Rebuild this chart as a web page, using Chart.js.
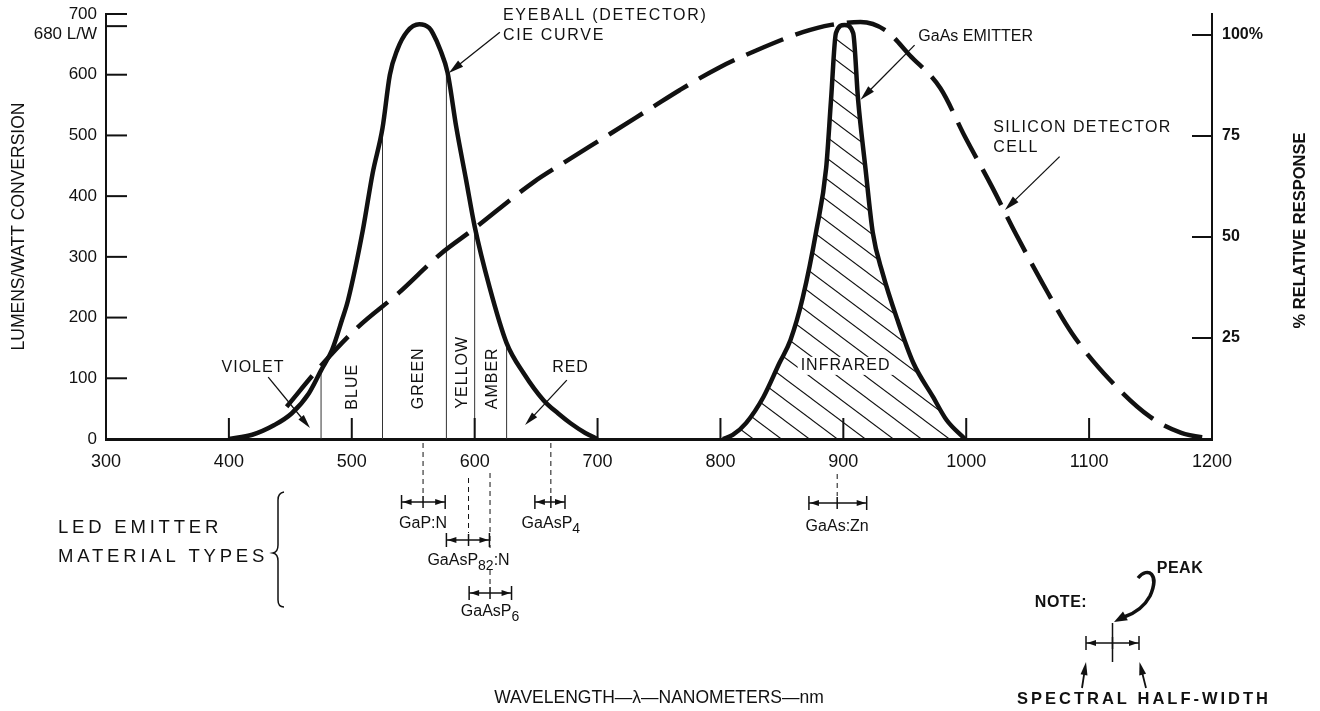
<!DOCTYPE html>
<html>
<head>
<meta charset="utf-8">
<title>Spectral response of eye, silicon cell and LED emitters</title>
<script src="https://cdn.jsdelivr.net/npm/chart.js@4.4.1/dist/chart.umd.min.js"></script>
<style>
  html, body { margin: 0; padding: 0; background: #fff; }
  #wrap { width: 1320px; height: 711px; }
</style>
</head>
<body>
<div id="wrap"><canvas id="chart" width="1320" height="711"></canvas></div>
<script>
// axis ticks
const xTicks = [300, 400, 500, 600, 700, 800, 900, 1000, 1100, 1200];
const leftTicks = [0, 100, 200, 300, 400, 500, 600, 680, 700];
const rightTicks = [25, 50, 75, 100];

// eyeball (CIE) curve, lumens per watt
const cieNm = [400, 419, 437, 451, 465, 475, 484, 492, 497, 509, 517, 525, 531, 537, 545, 555, 563, 566, 572, 578, 585, 593, 600, 612, 626, 640, 656, 668, 678, 690, 700];
const cieLw = [0, 7, 23, 42, 75, 113, 147, 196, 229, 344, 438, 512, 600, 641, 671, 683, 677, 668, 641, 603, 514, 427, 350, 251, 158, 108, 64, 42, 26, 10, 0];

// silicon detector cell, % relative response
const siNm = [447, 474, 505, 538, 573, 598, 648, 672, 710, 745, 767, 798, 830, 867, 890, 914, 935, 954, 979, 999, 1021, 1040, 1062, 1086, 1117, 1150, 1175, 1200];
const siPct = [8, 17.8, 27.7, 36.1, 46, 51.7, 63.6, 68.3, 75.5, 82.2, 86.4, 91.8, 96.3, 100.7, 102.5, 103.2, 101, 95, 86.8, 74.8, 62.4, 51, 38.6, 26.2, 14.6, 5.4, 1.5, 0];

// GaAs emitter, % relative response
const gaasNm = [802, 810, 821, 835, 848, 857, 867, 878, 886, 890, 894, 901, 908, 912, 918, 924, 932, 944, 957, 973, 984, 999];
const gaasPct = [0, 1, 4, 10.4, 18.8, 24.5, 35, 51.5, 67, 84, 100.5, 102.5, 100.5, 84, 67, 51, 41, 29.5, 18.8, 10.4, 4.7, 0];

// colour bands under the eye curve
const bandEdges = [475, 525, 577, 600, 626];
const bandTops = [113, 512, 602, 350, 158];
const bandNames = ['BLUE', 'GREEN', 'YELLOW', 'AMBER'];
const bandLabelNm = [501, 554, 590.5, 614.5];

// LED emitter material types: peak and spectral half-width (nm)
const ledNames = ['GaP:N', 'GaAsP_{82}:N', 'GaAsP_{6}', 'GaAsP_{4}', 'GaAs:Zn'];
const ledPeak = [558, 595, 612.5, 662, 895];
const ledLow = [540.5, 577, 595.5, 649, 872];
const ledHigh = [576, 612, 630, 673.5, 919];

const ink = '#111';
const FF = '"Liberation Sans", Arial, Helvetica, sans-serif';
Chart.defaults.font.family = FF;
Chart.defaults.color = ink;

const pts = (xs, ys) => xs.map((x, i) => ({ x: x, y: ys[i] }));

function seg(ctx, x1, y1, x2, y2) {
  ctx.beginPath(); ctx.moveTo(x1, y1); ctx.lineTo(x2, y2); ctx.stroke();
}

function head(ctx, x, y, ang, len, half) {
  const c = Math.cos(ang), s = Math.sin(ang);
  ctx.beginPath();
  ctx.moveTo(x, y);
  ctx.lineTo(x - len * c + half * s, y - len * s - half * c);
  ctx.lineTo(x - len * c - half * s, y - len * s + half * c);
  ctx.closePath();
  ctx.fill();
}

function arrow(ctx, x1, y1, x2, y2, len, half) {
  const ang = Math.atan2(y2 - y1, x2 - x1);
  seg(ctx, x1, y1, x2 - Math.cos(ang) * len * 0.7, y2 - Math.sin(ang) * len * 0.7);
  head(ctx, x2, y2, ang, len, half);
}

function text(ctx, str, x, y, font, align, spacing) {
  ctx.font = font;
  ctx.letterSpacing = (spacing || 0) + 'px';
  ctx.textAlign = align || 'center';
  ctx.textBaseline = 'middle';
  ctx.fillText(str, x, y);
  ctx.letterSpacing = '0px';
}

// label with _{sub} parts, centred on cx
function subText(ctx, str, cx, cy, size) {
  const parts = str.split(/(_\{[^}]*\})/).filter(Boolean)
    .map(p => p.startsWith('_{') ? { t: p.slice(2, -1), sub: true } : { t: p, sub: false });
  const fontOf = p => (p.sub ? Math.round(size * 0.85) : size) + 'px ' + FF;
  let w = 0;
  parts.forEach(p => { ctx.font = fontOf(p); w += ctx.measureText(p.t).width; });
  let x = cx - w / 2;
  ctx.textAlign = 'left';
  ctx.textBaseline = 'middle';
  parts.forEach(p => {
    ctx.font = fontOf(p);
    ctx.fillText(p.t, x, cy + (p.sub ? size * 0.35 : 0));
    x += ctx.measureText(p.t).width;
  });
}

function halfWidthBar(ctx, xl, xp, xh, y) {
  ctx.lineWidth = 1.5;
  seg(ctx, xl, y, xh, y);
  seg(ctx, xl, y - 7, xl, y + 7);
  seg(ctx, xh, y - 7, xh, y + 7);
  seg(ctx, xp, y - 6, xp, y + 6);
  head(ctx, xl + 1, y, Math.PI, 9, 3);
  head(ctx, xh - 1, y, 0, 9, 3);
}

function dashed(ctx, x, y1, y2) {
  ctx.save();
  ctx.lineWidth = 1;
  ctx.setLineDash([5, 4]);
  seg(ctx, x, y1, x, y2);
  ctx.restore();
}

// layout of the emitter rows below the axis (pixels)
const ledRows = [
  { bar: 502, label: 524, dash: [[443, 495]] },
  { bar: 540, label: 561, dash: [[478, 533]] },
  { bar: 593, label: 612, dash: [[473, 548], [570, 586]] },
  { bar: 502, label: 524, dash: [[443, 495]] },
  { bar: 503, label: 527, dash: [[474, 496]] }
];

const annotate = {
  id: 'annotate',
  afterDatasetsDraw(chart) {
    const { ctx, chartArea: a, scales } = chart;
    const X = v => scales.x.getPixelForValue(v);
    const Y = v => scales.y.getPixelForValue(v);
    const R = v => scales.y1.getPixelForValue(v);
    ctx.save();
    ctx.strokeStyle = ink;
    ctx.fillStyle = ink;

    // inward tick marks
    ctx.lineWidth = 2;
    leftTicks.slice(1).forEach(v => seg(ctx, a.left, Y(v), a.left + 21, Y(v)));
    rightTicks.forEach(v => seg(ctx, a.right - 20, R(v), a.right, R(v)));
    xTicks.slice(1, -1).forEach(v => seg(ctx, X(v), a.bottom, X(v), a.bottom - 21));

    // right axis title, reading upwards
    ctx.save();
    ctx.translate(1300, (a.top + a.bottom) / 2 + 4);
    ctx.rotate(-Math.PI / 2);
    text(ctx, '% RELATIVE RESPONSE', 0, 0, 'bold 16.5px ' + FF);
    ctx.restore();

    // band names
    bandNames.forEach((n, i) => {
      ctx.save();
      ctx.translate(X(bandLabelNm[i]), Y([86, 100, 110, 100][i]));
      ctx.rotate(-Math.PI / 2);
      text(ctx, n, 0, 0, '16px ' + FF, 'center', 1);
      ctx.restore();
    });

    const f16 = '16px ' + FF;
    ctx.lineWidth = 1.3;
    text(ctx, 'VIOLET', X(419.6), Y(117), f16, 'center', 1);
    arrow(ctx, X(432), Y(102), X(466), Y(18), 14, 3.5);
    text(ctx, 'RED', X(678), Y(117), f16, 'center', 1);
    arrow(ctx, X(675), Y(97), X(641), Y(23), 14, 3.5);

    text(ctx, 'EYEBALL (DETECTOR)', X(623), Y(698), f16, 'left', 1.7);
    text(ctx, 'CIE CURVE', X(623), Y(665), f16, 'left', 1.7);
    arrow(ctx, X(620.5), Y(670), X(579), Y(603), 15, 4);

    text(ctx, 'GaAs EMITTER', X(961), R(99.5), f16, 'left', 0);
    arrow(ctx, X(958), R(97.5), X(914), R(84), 15, 4);

    text(ctx, 'SILICON DETECTOR', X(1022), R(77.2), f16, 'left', 1.4);
    text(ctx, 'CELL', X(1022), R(72.2), f16, 'left', 1.4);
    arrow(ctx, X(1076), R(69.9), X(1031.5), R(56.7), 15, 4);

    // label over the hatching
    ctx.font = f16;
    ctx.letterSpacing = '1px';
    const w = ctx.measureText('INFRARED').width;
    ctx.letterSpacing = '0px';
    ctx.fillStyle = '#fff';
    ctx.fillRect(X(901.8) - w / 2 - 3, R(18.1) - 9, w + 6, 18);
    ctx.fillStyle = ink;
    text(ctx, 'INFRARED', X(901.8), R(18.1), f16, 'center', 1);

    // LED emitter material types
    ledNames.forEach((n, i) => {
      const row = ledRows[i];
      row.dash.forEach(d => dashed(ctx, X(ledPeak[i]), d[0], d[1]));
      halfWidthBar(ctx, X(ledLow[i]), X(ledPeak[i]), X(ledHigh[i]), row.bar);
      subText(ctx, n, X(ledPeak[i]), row.label, 16);
    });

    text(ctx, 'LED EMITTER', 58, 528, '18.5px ' + FF, 'left', 3.8);
    text(ctx, 'MATERIAL TYPES', 58, 557, '18.5px ' + FF, 'left', 3.8);
    ctx.lineWidth = 1.5;
    ctx.beginPath();
    ctx.moveTo(284, 492);
    ctx.quadraticCurveTo(278, 493, 278, 500);
    ctx.lineTo(278, 545);
    ctx.quadraticCurveTo(278, 552, 273, 553);
    ctx.quadraticCurveTo(278, 554, 278, 561);
    ctx.lineTo(278, 600);
    ctx.quadraticCurveTo(278, 607, 284, 607);
    ctx.stroke();

    // note: peak and spectral half-width
    text(ctx, 'NOTE:', 1061, 603, 'bold 16px ' + FF, 'center', 0.5);
    text(ctx, 'PEAK', 1180, 569, 'bold 16px ' + FF, 'center', 0.5);
    halfWidthBar(ctx, 1086, 1112.5, 1139, 643);
    ctx.lineWidth = 1.5;
    seg(ctx, 1112.5, 623, 1112.5, 662);
    ctx.lineWidth = 3.5;
    ctx.beginPath();
    ctx.moveTo(1138, 578);
    ctx.bezierCurveTo(1148, 566, 1160, 574, 1150, 596);
    ctx.quadraticCurveTo(1142, 611, 1124, 617);
    ctx.stroke();
    head(ctx, 1114, 622, Math.atan2(6, -11), 13, 5);
    ctx.lineWidth = 1.8;
    arrow(ctx, 1082, 688, 1086, 662, 13, 3.5);
    arrow(ctx, 1146, 688, 1139.5, 662, 13, 3.5);
    text(ctx, 'SPECTRAL HALF-WIDTH', 1144, 699, 'bold 16.5px ' + FF, 'center', 3);

    ctx.restore();
  }
};

const canvas = document.getElementById('chart');
const ctx = canvas.getContext('2d');

// diagonal hatching for the GaAs emitter
function makeHatch() {
  const c = document.createElement('canvas');
  c.width = 28; c.height = 21;
  const g = c.getContext('2d');
  g.strokeStyle = ink;
  g.lineWidth = 1.1;
  for (const dx of [-28, 0, 28]) {
    g.beginPath(); g.moveTo(dx - 28, -21); g.lineTo(dx + 56, 42); g.stroke();
  }
  return ctx.createPattern(c, 'repeat');
}

// keep the plot area fixed: no extra label padding from the scales
function fixBox(size, key) {
  return s => {
    s[key] = size;
    s.paddingTop = 0; s.paddingBottom = 0; s.paddingLeft = 0; s.paddingRight = 0;
  };
}

const bandSets = bandEdges.map((b, i) => ({
  label: 'band edge ' + b,
  data: [{ x: b, y: 0 }, { x: b, y: bandTops[i] }],
  yAxisID: 'y',
  borderColor: '#333',
  borderWidth: 1,
  pointRadius: 0,
  fill: false
}));

new Chart(ctx, {
  type: 'line',
  data: {
    datasets: [
      {
        label: 'Eyeball (detector) CIE curve',
        data: pts(cieNm, cieLw),
        yAxisID: 'y',
        borderColor: ink,
        borderWidth: 4.5,
        cubicInterpolationMode: 'monotone',
        pointRadius: 0,
        fill: false
      },
      {
        label: 'GaAs emitter',
        data: pts(gaasNm, gaasPct),
        yAxisID: 'y1',
        borderColor: ink,
        borderWidth: 4.5,
        backgroundColor: makeHatch(),
        fill: 'origin',
        cubicInterpolationMode: 'monotone',
        pointRadius: 0
      },
      {
        label: 'Silicon detector cell',
        data: pts(siNm, siPct),
        yAxisID: 'y1',
        borderColor: ink,
        borderWidth: 4.5,
        borderDash: [40, 13],
        cubicInterpolationMode: 'monotone',
        pointRadius: 0,
        fill: false
      },
      ...bandSets
    ]
  },
  options: {
    responsive: false,
    animation: false,
    devicePixelRatio: 1,
    layout: { padding: { top: 14, left: 0, right: 0, bottom: 0 } },
    plugins: { legend: { display: false }, tooltip: { enabled: false } },
    scales: {
      x: {
        type: 'linear',
        min: 300,
        max: 1200,
        afterBuildTicks: s => { s.ticks = xTicks.map(v => ({ value: v })); },
        afterFit: fixBox(272, 'height'),
        grid: { display: false, drawTicks: false },
        border: { display: true, width: 3, color: ink },
        ticks: { padding: 12, font: { size: 18 }, color: ink, maxRotation: 0, autoSkip: false, callback: v => String(v) },
        title: { display: true, text: 'WAVELENGTH—λ—NANOMETERS—nm', font: { size: 17.5 }, color: ink, padding: { top: 0, bottom: 2 } }
      },
      y: {
        position: 'left',
        min: 0,
        max: 700,
        afterBuildTicks: s => { s.ticks = leftTicks.map(v => ({ value: v })); },
        afterFit: fixBox(106, 'width'),
        grid: { display: false, drawTicks: false },
        border: { display: true, width: 2, color: ink },
        ticks: {
          padding: 9,
          autoSkip: false,
          font: { size: 17, lineHeight: 1 },
          color: ink,
          callback: v => v === 680 ? ['', '680 L/W'] : String(v)
        },
        title: { display: true, text: 'LUMENS/WATT CONVERSION', font: { size: 17.5 }, color: ink, padding: { top: 8.5, bottom: 0 } }
      },
      y1: {
        position: 'right',
        min: 0,
        max: 105.2,
        afterBuildTicks: s => { s.ticks = rightTicks.map(v => ({ value: v })); },
        afterFit: fixBox(108, 'width'),
        grid: { display: false, drawTicks: false },
        border: { display: true, width: 2, color: ink },
        ticks: {
          padding: 10,
          autoSkip: false,
          font: { size: 16, weight: 'bold' },
          color: ink,
          callback: v => v === 100 ? '100%' : String(v)
        }
      }
    }
  },
  plugins: [annotate]
});
</script>
</body>
</html>
